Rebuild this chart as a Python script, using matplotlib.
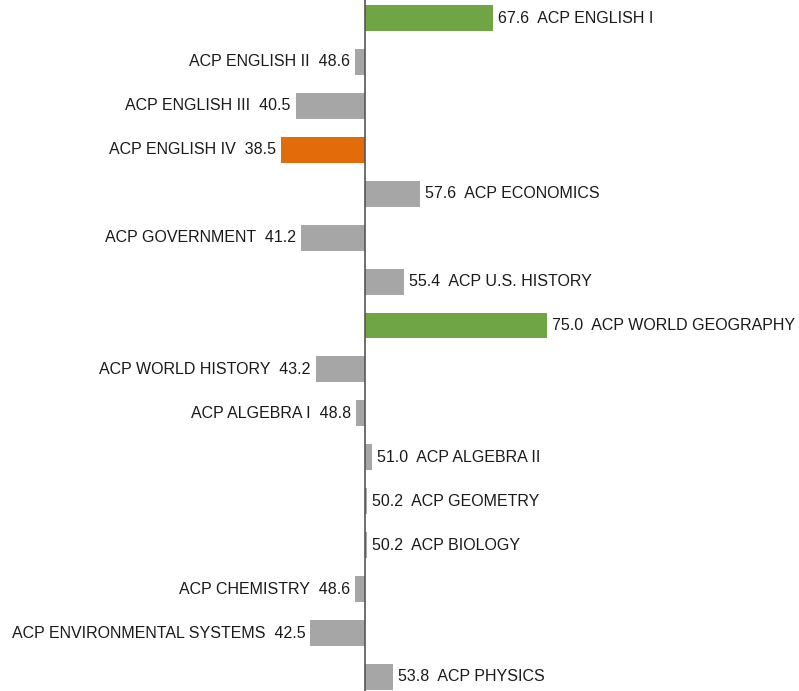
import matplotlib.pyplot as plt

plt.rcParams['font.family'] = ['Liberation Sans', 'DejaVu Sans']

# course names and scores (centered at 50)
courses = ["ACP ENGLISH I", "ACP ENGLISH II", "ACP ENGLISH III", "ACP ENGLISH IV",
           "ACP ECONOMICS", "ACP GOVERNMENT", "ACP U.S. HISTORY", "ACP WORLD GEOGRAPHY",
           "ACP WORLD HISTORY", "ACP ALGEBRA I", "ACP ALGEBRA II", "ACP GEOMETRY",
           "ACP BIOLOGY", "ACP CHEMISTRY", "ACP ENVIRONMENTAL SYSTEMS", "ACP PHYSICS"]
scores = [67.6, 48.6, 40.5, 38.5, 57.6, 41.2, 55.4, 75.0,
          43.2, 48.8, 51.0, 50.2, 50.2, 48.6, 42.5, 53.8]
highlight = {"ACP ENGLISH I": "#70a546", "ACP WORLD GEOGRAPHY": "#70a546",
             "ACP ENGLISH IV": "#e36c0a"}
base = 50.0

fig = plt.figure(figsize=(7.99, 6.91), dpi=100)
ax = fig.add_axes([0, 0, 1, 1])

ypos = list(range(len(courses)))
colors = [highlight.get(c, "#a6a6a6") for c in courses]
diffs = [s - base for s in scores]
ax.barh(ypos, diffs, left=base, height=0.59, color=colors, zorder=2)

for y, c, s in zip(ypos, courses, scores):
    if s >= base:
        ax.text(s + 0.7, y, f"{s:.1f}  {c}", ha="left", va="center", fontsize=11.5, color="#1a1a1a")
    else:
        ax.text(s - 0.7, y, f"{c}  {s:.1f}", ha="right", va="center", fontsize=11.5, color="#1a1a1a")

ax.axvline(base, color="#555555", lw=1.2, zorder=3)

ax.set_xlim(-0.14, 109.6)
ax.set_ylim(15.32, -0.41)
ax.axis("off")

fig.savefig("out.png", dpi=100)
